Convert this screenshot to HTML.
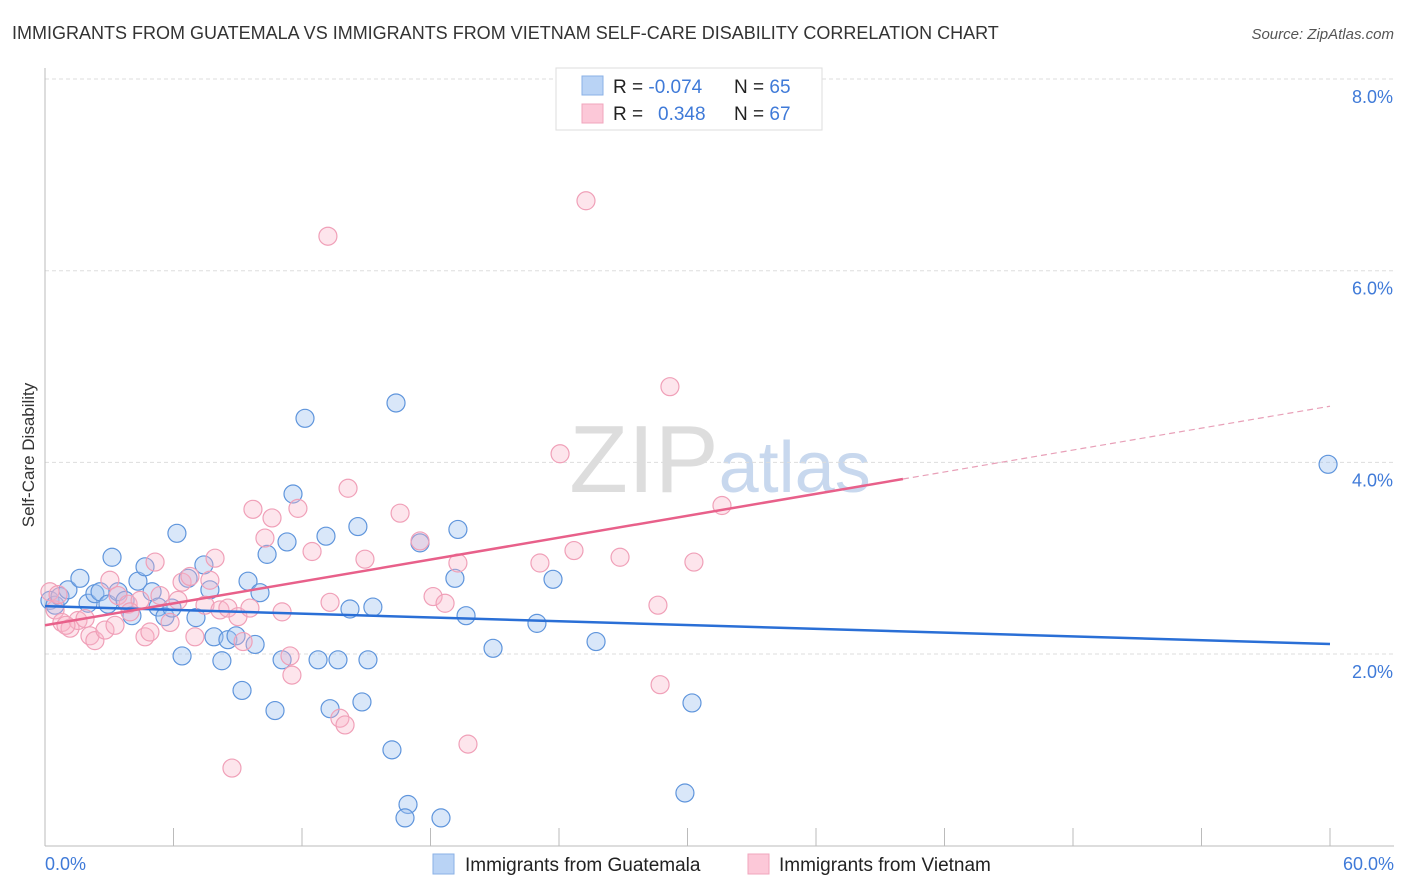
<!DOCTYPE html>
<html><head><meta charset="utf-8">
<style>
body{margin:0;background:#fff;font-family:"Liberation Sans",sans-serif;}
#wrap{position:relative;width:1406px;height:892px;overflow:hidden;}
svg text{font-family:"Liberation Sans",sans-serif;}
</style></head>
<body>
<div id="wrap">
<svg id="chart" width="1406" height="892">
<text x="12" y="39" font-size="18" fill="#333">IMMIGRANTS FROM GUATEMALA VS IMMIGRANTS FROM VIETNAM SELF-CARE DISABILITY CORRELATION CHART</text>
<text x="1394" y="39" font-size="15" fill="#555" text-anchor="end" font-style="italic">Source: ZipAtlas.com</text>
<text x="720" y="492" font-size="96" fill="#ddd" text-anchor="middle" font-family="Liberation Serif">ZIP<tspan fill="#c8d8ee" font-family="Liberation Sans" font-size="72">atlas</tspan></text>
<g id="grid"></g>
<g id="axes"></g>
<g id="pts"></g>
<g id="trend"></g>
<text transform="translate(34,455) rotate(-90)" font-size="17" fill="#333" text-anchor="middle">Self-Care Disability</text>
<text x="45" y="870" font-size="18" fill="#3f7ad8">0.0%</text>
<text x="1394" y="870" font-size="18" fill="#3f7ad8" text-anchor="end">60.0%</text>
<g>
<rect x="556" y="68" width="266" height="62" fill="#fff" stroke="#ddd"/>
<rect x="582" y="76" width="21" height="19" fill="#b9d3f5" stroke="#8ab0e6"/>
<rect x="582" y="104" width="21" height="19" fill="#fcc8d8" stroke="#f0a6bd"/>
<text x="613" y="93" font-size="19" fill="#222">R = <tspan fill="#3f7ad8">-0.074</tspan><tspan x="734">N = </tspan><tspan fill="#3f7ad8">65</tspan></text>
<text x="613" y="120" font-size="19" fill="#222">R = <tspan x="658" fill="#3f7ad8">0.348</tspan><tspan x="734">N = </tspan><tspan fill="#3f7ad8">67</tspan></text>
</g>
<g>
<rect x="433" y="854" width="21" height="20" fill="#b9d3f5" stroke="#8ab0e6"/>
<text x="465" y="871" font-size="19" fill="#222">Immigrants from Guatemala</text>
</g>
<g>
<rect x="748" y="854" width="21" height="20" fill="#fcc8d8" stroke="#f0a6bd"/>
<text x="779" y="871" font-size="19" fill="#222">Immigrants from Vietnam</text>
</g>
</svg>
</div>
<script>
const yTicks=[2,4,6,8];
const yTickLabels=["2.0%","4.0%","6.0%","8.0%"];
const xTicks=[0,6,12,18,24,30,36,42,48,54,60];
const guatX=[0.23,0.47,0.70,1.07,1.63,2.01,2.33,2.57,2.94,3.13,3.41,3.74,4.06,4.34,4.67,5.00,5.28,5.60,5.93,6.16,6.40,6.68,7.05,7.42,7.70,7.89,8.26,8.54,8.92,9.20,9.48,9.81,10.04,10.37,10.74,11.07,11.30,11.58,12.14,12.75,13.12,13.31,13.68,14.61,14.24,14.80,15.08,15.31,16.20,16.39,16.95,16.81,17.51,18.49,19.14,19.28,19.66,20.92,22.97,23.72,25.73,29.88,30.21,59.91];
const guatY=[2.56,2.51,2.60,2.67,2.79,2.53,2.63,2.65,2.52,3.01,2.65,2.56,2.40,2.76,2.91,2.65,2.49,2.39,2.48,3.26,1.98,2.79,2.38,2.93,2.67,2.18,1.93,2.15,2.19,1.62,2.76,2.10,2.64,3.04,1.41,1.94,3.17,3.67,4.46,1.94,3.23,1.43,1.94,3.33,2.47,1.50,1.94,2.49,1.00,4.62,0.43,0.29,3.16,0.29,2.79,3.30,2.40,2.06,2.32,2.78,2.13,0.55,1.49,3.98];
const vietX=[0.23,0.47,0.79,1.17,1.54,1.87,2.10,2.33,2.80,3.03,3.41,3.88,4.44,4.67,4.90,5.14,5.37,5.84,6.21,6.40,6.77,7.00,7.47,7.70,7.94,8.17,8.54,8.73,9.01,9.25,9.57,9.71,10.27,10.60,11.07,11.44,11.53,11.81,12.47,13.21,13.31,13.77,14.01,14.15,14.94,16.58,17.51,18.12,18.68,19.28,19.75,23.11,24.05,24.70,25.26,26.85,28.62,28.72,29.18,30.30,31.61,0.61,0.98,3.97,3.27];
const vietY=[2.65,2.46,2.33,2.27,2.35,2.37,2.19,2.14,2.25,2.77,2.61,2.52,2.56,2.18,2.23,2.96,2.61,2.33,2.56,2.75,2.81,2.18,2.51,2.77,3.00,2.46,2.48,0.81,2.39,2.13,2.48,3.51,3.21,3.42,2.44,1.98,1.78,3.52,3.07,6.36,2.54,1.33,1.26,3.73,2.99,3.47,3.18,2.60,2.53,2.95,1.06,2.95,4.09,3.08,6.73,3.01,2.51,1.68,4.79,2.96,3.55,2.62,2.30,2.44,2.30];
const guatTrend=[2.50,2.105];
const vietTrend=[2.30,0.0381];
const vietSolidEnd=40.06;

const NS="http://www.w3.org/2000/svg";
const xs=v=>45+v*(1285/60);
const ys=v=>845.7-v*95.83;
function mk(tag,attrs,parent){const e=document.createElementNS(NS,tag);for(const k in attrs)e.setAttribute(k,attrs[k]);parent.appendChild(e);return e;}
const grid=document.getElementById('grid'),axes=document.getElementById('axes'),pts=document.getElementById('pts'),trend=document.getElementById('trend');
yTicks.forEach((t,i)=>{
  const l=mk('line',{x1:45,x2:1394,y1:ys(t),y2:ys(t),stroke:'#ddd','stroke-dasharray':'4,3'},grid);
  
  
  const tx=mk('text',{x:1393,y:ys(t)+24,'font-size':18,fill:'#3f7ad8','text-anchor':'end'},grid);
  tx.textContent=yTickLabels[i];
  
  
});
const ya=mk('line',{x1:45,x2:45,y1:68,y2:846,stroke:'#bbb'},axes);


const xa=mk('line',{x1:45,x2:1394,y1:846,y2:846,stroke:'#bbb'},axes);


xTicks.forEach(t=>{
  const l=mk('line',{x1:xs(t),x2:xs(t),y1:828,y2:846,stroke:'#bbb'},axes);
  
  
});
guatX.forEach((x,i)=>{
  const c=mk('circle',{cx:xs(x),cy:ys(guatY[i]),r:9,fill:'rgba(160,196,240,0.4)',stroke:'#5f95dc','stroke-width':1.2},pts);
  
  
});
vietX.forEach((x,i)=>{
  const c=mk('circle',{cx:xs(x),cy:ys(vietY[i]),r:9,fill:'rgba(248,180,200,0.35)',stroke:'#f0a0b8','stroke-width':1.2},pts);
  
  
});
const gl=mk('line',{x1:xs(0),y1:ys(guatTrend[0]),x2:xs(60),y2:ys(guatTrend[1]),stroke:'#2a6fd6','stroke-width':2.5},trend);


const vf=x=>vietTrend[0]+vietTrend[1]*x;
const vl=mk('line',{x1:xs(0),y1:ys(vf(0)),x2:xs(vietSolidEnd),y2:ys(vf(vietSolidEnd)),stroke:'#e8608a','stroke-width':2.5},trend);


const vd=mk('line',{x1:xs(vietSolidEnd),y1:ys(vf(vietSolidEnd)),x2:xs(60),y2:ys(vf(60)),stroke:'#e8a0b8','stroke-width':1.2,'stroke-dasharray':'6,4'},trend);


</script>
</body></html>
